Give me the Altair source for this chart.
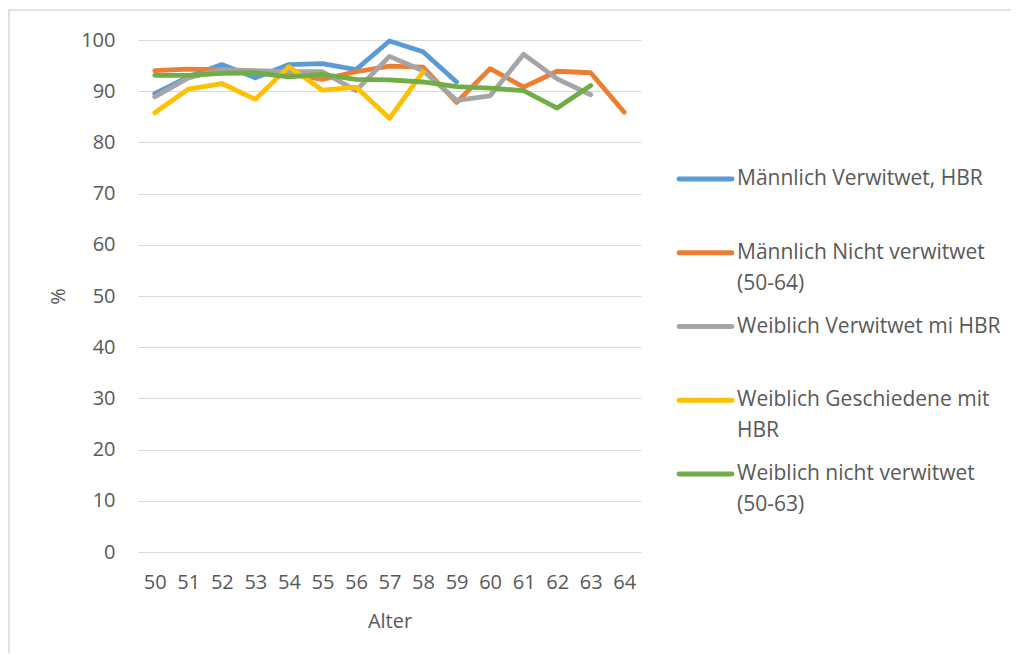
import altair as alt
import pandas as pd

ages = list(range(50, 65))

series_names = [
    "Männlich Verwitwet, HBR",
    "Männlich Nicht verwitwet (50-64)",
    "Weiblich Verwitwet mi HBR",
    "Weiblich Geschiedene mit HBR",
    "Weiblich nicht verwitwet (50-63)",
]
legend_lines = [
    ["Männlich Verwitwet, HBR"],
    ["Männlich Nicht verwitwet", "(50-64)"],
    ["Weiblich Verwitwet mi HBR"],
    ["Weiblich Geschiedene mit", "HBR"],
    ["Weiblich nicht verwitwet", "(50-63)"],
]
colors = ["#5B9BD5", "#ED7D31", "#A5A5A5", "#FFC000", "#70AD47"]

m_verwitwet = [89.5, 92.8, 95.2, 92.6, 95.2, 95.4, 94.2, 99.8, 97.7, 91.8]
m_nicht = [94.0, 94.3, 94.2, 93.8, 93.4, 92.3, 93.8, 94.9, 94.7, 87.8, 94.4, 90.8, 93.9, 93.6, 85.9]
w_verwitwet = [88.9, 92.6, 94.2, 94.0, 93.8, 93.8, 90.1, 96.8, 94.0, 88.2, 89.1, 97.2, 92.4, 89.3]
w_geschieden = [85.8, 90.4, 91.5, 88.4, 94.8, 90.2, 90.8, 84.7, 93.8]
w_nicht = [93.1, 93.1, 93.5, 93.6, 92.8, 93.3, 92.3, 92.2, 91.8, 90.9, 90.6, 90.1, 86.7, 91.1]

values = [m_verwitwet, m_nicht, w_verwitwet, w_geschieden, w_nicht]

rows = []
for i, (name, vals) in enumerate(zip(series_names, values)):
    for a, v in zip(ages, vals):
        rows.append({"Alter": a, "Wert": v, "Serie": name, "ord": i})
df = pd.DataFrame(rows)

legend_df = pd.DataFrame({
    "Serie": series_names,
    "idx": list(range(len(series_names))),
    "label": legend_lines,
})

FONT = "Open Sans"
TXT = "#595959"
W, H = 503, 512

color_enc = alt.Color("Serie:N", scale=alt.Scale(domain=series_names, range=colors), legend=None)

lines = alt.Chart(df).mark_line(strokeWidth=4.8, strokeCap="round", strokeJoin="round").encode(
    x=alt.X("Alter:O", title="Alter",
            scale=alt.Scale(type="point", padding=0.5),
            axis=alt.Axis(labelAngle=0, domain=False, ticks=False, grid=False,
                          labelPadding=20, titlePadding=19)),
    y=alt.Y("Wert:Q", title="%",
            scale=alt.Scale(domain=[0, 100]),
            axis=alt.Axis(values=list(range(0, 101, 10)), domain=False, ticks=False,
                          labelPadding=23, titlePadding=12, gridColor="#D9D9D9", gridWidth=1)),
    color=color_enc,
    order=alt.Order("ord:Q"),
)

leg_y = alt.Y("idx:O", scale=alt.Scale(type="point", range=[139, 434], padding=0), axis=None)

leg_sym = alt.Chart(legend_df).mark_rule(strokeWidth=4.8, strokeCap="round").encode(
    x=alt.value(541), x2=alt.value(594), y=leg_y, color=color_enc,
)
leg_txt = alt.Chart(legend_df).mark_text(
    align="left", baseline="middle", font=FONT, fontSize=21, lineHeight=31, color=TXT,
).encode(
    x=alt.value(599), y=leg_y, text="label",
)

border = alt.Chart(alt.Data(values=[{}])).mark_rect(
    fill=None, stroke="#D9D9D9", strokeWidth=1.5, clip=False
).encode(
    x=alt.value(-129), x2=alt.value(890), y=alt.value(-30), y2=alt.value(640)
)

chart = alt.layer(border, lines, leg_sym, leg_txt).resolve_scale(y="independent").properties(
    width=W, height=H,
    autosize=alt.AutoSizeParams(type="none"),
    padding={"left": 130, "top": 32, "right": 370, "bottom": 101},
    background="white",
).configure_view(stroke=None).configure_axis(
    labelFont=FONT, labelFontSize=20, labelColor=TXT,
    titleFont=FONT, titleFontSize=20, titleColor=TXT, titleFontWeight="normal",
)

chart.save("out.html", embed_options={"renderer": "svg", "actions": False})
